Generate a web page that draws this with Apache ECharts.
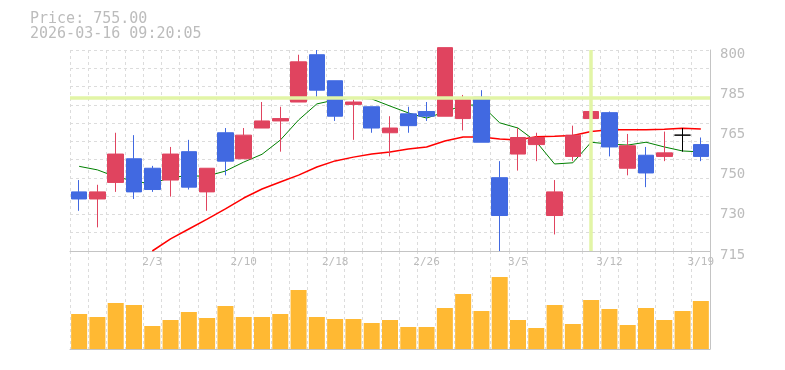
<!DOCTYPE html>
<html>
<head>
<meta charset="utf-8">
<script src="https://cdn.jsdelivr.net/npm/echarts@6/dist/echarts.min.js"></script>
<style>html,body{margin:0;padding:0;background:#fff}#c{width:785px;height:370px}</style>
</head>
<body>
<div id="c"></div>
<script>
const categories = ['1/28','1/29','1/30','2/2','2/3','2/4','2/5','2/6','2/9','2/10','2/12','2/13','2/16','2/17','2/18','2/19','2/20','2/24','2/25','2/26','2/27','3/2','3/3','3/4','3/5','3/6','3/9','3/10','3/11','3/12','3/13','3/16','3/17','3/18','3/19'];
const opens  = [740,737,744,754,750,745,757,740,765,754,767,770,778,798,787,777,776,765,773,774,772,771,780,746,756,760,730,755,771,773.5,750,755.5,755,764,760];
const closes = [737,740,756,740,741,756,742,750,753,764,770,771,795,783,772,778,767,767,768,772,801,779,761,730,763,763,740,764,774,759,759.5,748,756.5,764,755];
const lows   = [732,725,740,737,740,738,741,732,747,754,767,757,778,780,770,762,765,755,765,770,772,766,761,715,749,753,722,753,770,755,747,742,753,757,753];
const highs  = [745,743,765,764,751,759,762,750,767,767,778,776,798,800,787,779,776,772,776,778,801,781,783,753,767,765,745,768,780,774,764.5,759,765.5,767,763];
const ma5  = [750.8,749.3,746.4,744.6,743.3,746.3,746.7,746.7,748.8,752.6,755.9,761.9,770.4,777.2,778.9,779.7,779.3,776.3,773.4,771.2,773.8,776.7,776.7,769.2,767.0,761.2,751.8,752.3,761.0,760.2,759.8,761.0,759.0,757.3,756.9];
const ma25 = [null,null,null,null,715.0,720.1,724.3,728.5,732.8,737.4,741.2,744.2,747.1,750.5,753.1,754.7,756.0,756.9,758.1,759.0,761.5,763.2,763.2,762.4,761.9,763.3,763.5,763.8,765.5,766.3,766.3,766.3,766.5,766.9,766.6];
const volumes = [35,32,46,44,23,29,37,31,43,32,32,35,59,32,30,30,26,29,22,22,41,55,38,72,29,21,44,25,49,40,24,41,29,38,48];
const yTickValues = [715,732,749,766,783,800];
const yTickLabels = ['715','730','750','765','785','800'];
const markDate = '3/11';
const markPrice = 780;
const priceText = 'Price: 755.00';
const timeText = '2026-03-16 09:20:05';

const UP = '#E0445F', DOWN = '#4169E1', DOJI = '#000000';
const MONO = '"DejaVu Sans Mono", monospace';
const LABEL = '#bcbcbc';
const AXIS = '#c4c4c4';
const GRIDLINE = {type: [3, 3], color: '#dcdcdc', width: 1};

const candleData = categories.map((c, i) => {
  const item = {value: [opens[i], closes[i], lows[i], highs[i]]};
  if (opens[i] === closes[i]) {
    item.itemStyle = {color: DOJI, color0: DOJI, borderColor: DOJI, borderColor0: DOJI};
  }
  return item;
});

const chart = echarts.init(document.getElementById('c'), null, {renderer: 'canvas'});
chart.setOption({
  animation: false,
  backgroundColor: '#ffffff',
  title: {
    text: priceText + '\n' + timeText,
    left: 30, top: 12, padding: 0,
    textStyle: {fontFamily: MONO, fontSize: 15, fontWeight: 'normal', color: LABEL, lineHeight: 15}
  },
  grid: [
    {left: 70, top: 50, width: 640, height: 201},
    {left: 70, top: 251, width: 640, height: 98}
  ],
  xAxis: [
    {
      type: 'category', gridIndex: 0, data: categories, boundaryGap: true,
      axisLine: {onZero: false, lineStyle: {color: AXIS, width: 1}},
      axisTick: {show: false},
      axisLabel: {
        interval: (idx) => idx >= 4 && (idx - 4) % 5 === 0,
        margin: 6, color: LABEL, fontFamily: MONO, fontSize: 11
      },
      splitLine: {show: true, interval: 0, lineStyle: GRIDLINE}
    },
    {
      type: 'category', gridIndex: 1, data: categories, boundaryGap: true,
      axisLine: {onZero: false, lineStyle: {color: AXIS, width: 1}},
      axisTick: {show: false},
      axisLabel: {show: false},
      splitLine: {show: true, interval: 0, lineStyle: GRIDLINE}
    }
  ],
  yAxis: [
    {
      type: 'value', gridIndex: 0, position: 'right', min: 715, max: 800, interval: 17,
      axisLine: {show: true, onZero: false, lineStyle: {color: AXIS, width: 1}},
      axisTick: {show: false},
      splitLine: {show: false},
      axisLabel: {
        margin: 10, color: LABEL, fontFamily: MONO, fontSize: 14,
        verticalAlign: 'top', lineHeight: 8,
        formatter: (v) => { const k = yTickValues.indexOf(Math.round(v)); return k >= 0 ? yTickLabels[k] : ''; }
      }
    },
    {
      type: 'value', gridIndex: 0, position: 'right', min: 0, max: 11, interval: 1,
      axisLine: {show: false}, axisTick: {show: false}, axisLabel: {show: false},
      splitLine: {show: true, lineStyle: GRIDLINE}
    },
    {
      type: 'value', gridIndex: 1, position: 'right', min: 0, max: 98,
      axisLine: {show: true, onZero: false, lineStyle: {color: AXIS, width: 1}},
      axisTick: {show: false}, axisLabel: {show: false}, splitLine: {show: false}
    }
  ],
  series: [
    {
      type: 'line', xAxisIndex: 0, yAxisIndex: 0, data: [], z: 1, silent: true,
      markLine: {
        silent: true, symbol: ['none', 'none'], label: {show: false},
        lineStyle: {color: '#e2f5a6', width: 3.5, type: 'solid'},
        data: [{xAxis: markDate}, {yAxis: markPrice}]
      }
    },
    {
      type: 'line', xAxisIndex: 0, yAxisIndex: 0, data: ma5, z: 2,
      symbol: 'none', lineStyle: {color: '#008000', width: 1}, itemStyle: {color: '#008000'}
    },
    {
      type: 'line', xAxisIndex: 0, yAxisIndex: 0, data: ma25, z: 2,
      symbol: 'none', lineStyle: {color: '#ff0000', width: 1.5}, itemStyle: {color: '#ff0000'}
    },
    {
      type: 'candlestick', xAxisIndex: 0, yAxisIndex: 0, data: candleData, z: 3,
      barWidth: 16, clip: false,
      itemStyle: {color: UP, color0: DOWN, borderColor: UP, borderColor0: DOWN, borderWidth: 1}
    },
    {
      type: 'bar', xAxisIndex: 1, yAxisIndex: 2, data: volumes, barWidth: 16,
      itemStyle: {color: '#FFB933'}
    }
  ]
});
</script>
</body>
</html>
